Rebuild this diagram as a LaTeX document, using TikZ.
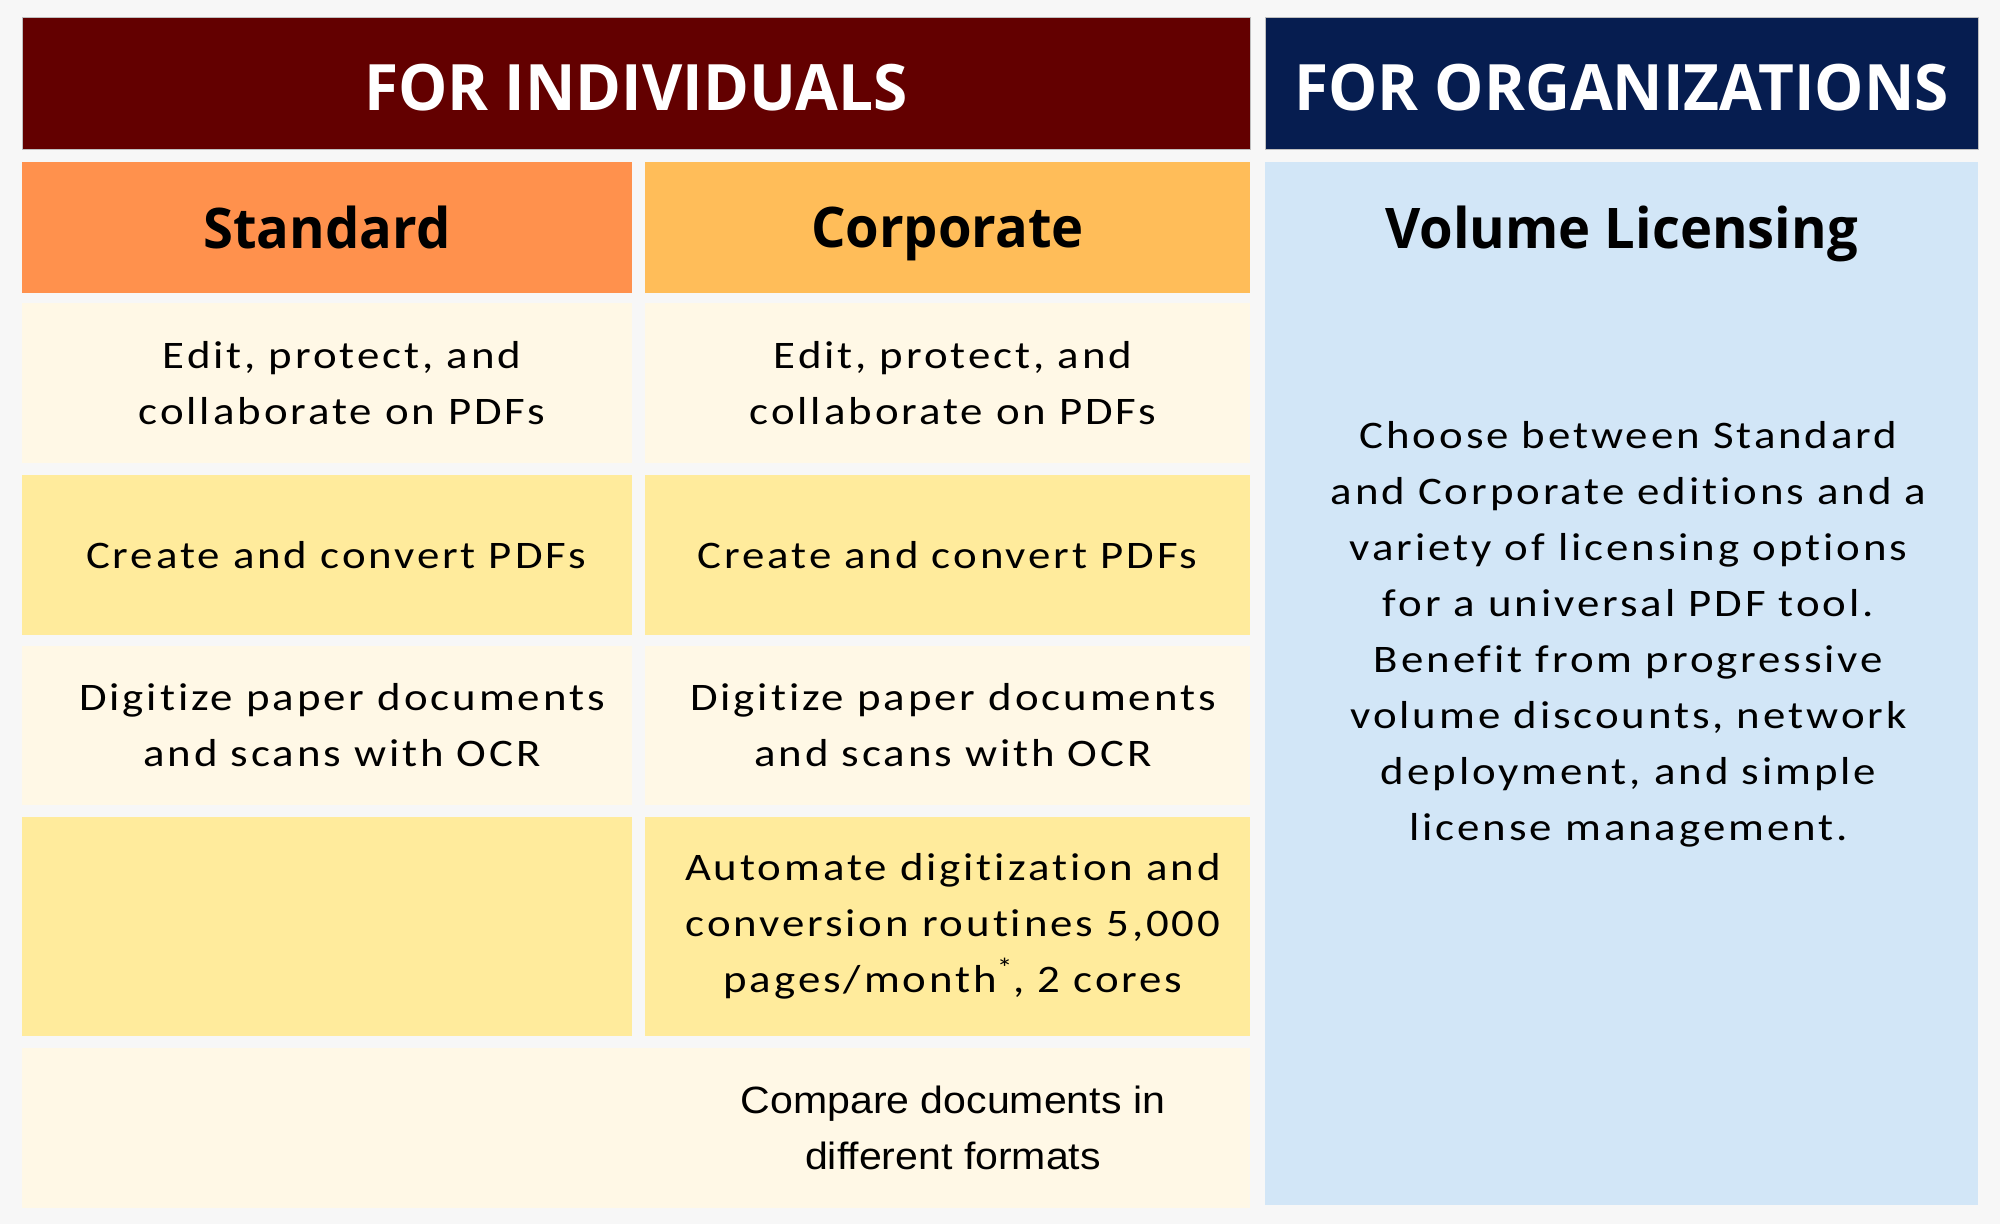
\documentclass[tikz,border=0pt]{standalone}
\usepackage{fontspec}
\usepackage{tikz}
\setmainfont{Carlito}[FakeStretch=1.15, LetterSpace=7.5, Ligatures=NoCommon]
\newfontfamily\headfont{Open Sans}[FakeStretch=0.97]
\newfontfamily\arialfont{Liberation Sans}[FakeStretch=1.08]

\definecolor{pagebg}{HTML}{F7F7F7}
\definecolor{indivred}{HTML}{630000}
\definecolor{orgnavy}{HTML}{061D50}
\definecolor{stdorange}{HTML}{FF914D}
\definecolor{corpamber}{HTML}{FFBD59}
\definecolor{rowlight}{HTML}{FFF8E6}
\definecolor{rowdark}{HTML}{FFEB9C}
\definecolor{volblue}{HTML}{D2E6F7}

\tikzset{
  bigtitle/.style={text=white, yshift=-2pt, font=\headfont\bfseries\fontsize{32}{36}\selectfont},
  coltitle/.style={text=black, text depth=0pt, font=\headfont\bfseries\fontsize{28}{32}\selectfont},
  feat/.style={align=center, font=\fontsize{19.5}{28}\selectfont},
  stdfeat/.style={feat, xshift=7.5pt},
  corpfeat/.style={feat, xshift=2.75pt},
}

\begin{document}
\begin{tikzpicture}[x=0.5pt, y=-0.5pt]
        \fill[pagebg] (0, 0) rectangle (2000, 1224);
        \useasboundingbox (0, 0) rectangle (2000, 1224);
        % top banners
        \path[fill=indivred, draw=black!25, line width=0.5pt] (22, 18) rectangle (1250, 150)
          node[midway, bigtitle] (indiv) {FOR INDIVIDUALS};
        \path[fill=orgnavy, draw=black!25, line width=0.5pt] (1265, 18) rectangle (1978, 150)
          node[midway, bigtitle] (org) {FOR ORGANIZATIONS};
        % column heads
        \path[fill=stdorange] (22, 162) rectangle (632, 293) node[midway, coltitle] (std) {Standard};
        \path[fill=corpamber] (645, 162) rectangle (1250, 293) node[midway, coltitle] (corp) {Corporate};
        % feature rows
        \path[fill=rowlight] (22, 303) rectangle (632, 463) node[midway, stdfeat] (std1) {Edit, protect, and\\collaborate on PDFs};
        \path[fill=rowlight] (645, 303) rectangle (1250, 463) node[midway, corpfeat] (corp1) {Edit, protect, and\\collaborate on PDFs};
        \path[fill=rowdark] (22, 475) rectangle (632, 635) node[midway, feat, xshift=4.5pt] (std2) {Create and convert PDFs};
        \path[fill=rowdark] (645, 475) rectangle (1250, 635) node[midway, feat] (corp2) {Create and convert PDFs};
        \path[fill=rowlight] (22, 646) rectangle (632, 805) node[midway, stdfeat] (std3) {Digitize paper documents\\and scans with OCR};
        \path[fill=rowlight] (645, 646) rectangle (1250, 805) node[midway, corpfeat] (corp3) {Digitize paper documents\\and scans with OCR};
        \path[fill=rowdark] (22, 817) rectangle (632, 1036) node[midway] (std4) {};
        \path[fill=rowdark] (645, 817) rectangle (1250, 1036) node[midway, corpfeat] (corp4) {Automate digitization and\\conversion routines 5,000\\pages/month\textsuperscript{*}, 2 cores};
        \path[fill=rowlight] (22, 1048) rectangle (1250, 1208) node[midway] (both5) {};
        \node[feat, font=\arialfont\fontsize{19}{28}\selectfont] (corp5) at (953, 1128) {Compare documents in\\different formats};
        % volume licensing panel
        \path[fill=volblue] (1265, 162) rectangle (1978, 1205) node[midway] (vol) {};
        \node[coltitle] (voltitle) at (1621.5, 227.5) {Volume Licensing};
        \node[feat] (voltext) at (1628.5, 634) {Choose between Standard\\and Corporate editions and a\\variety of licensing options\\for a universal PDF tool.\\Benefit from progressive\\volume discounts, network\\deployment, and simple\\license management.};
      \end{tikzpicture}
\end{document}
